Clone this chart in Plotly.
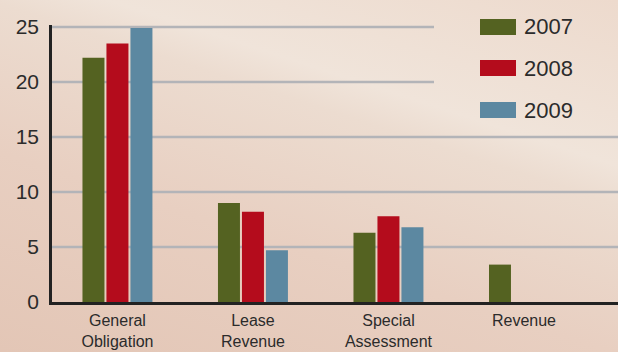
import base64
import plotly.graph_objects as go

# ---- data ----
categories = ["General<br>Obligation", "Lease<br>Revenue", "Special<br>Assessment", "Revenue"]
years = ["2007", "2008", "2009"]
values_2007 = [22.2, 9.0, 6.3, 3.4]
values_2008 = [23.5, 8.2, 7.8, None]
values_2009 = [24.9, 4.7, 6.8, None]
y_ticks = [0, 5, 10, 15, 20, 25]

colors = ["#546221", "#b40c1c", "#5c88a1"]
series = [values_2007, values_2008, values_2009]

W, H = 618, 352
L, R, T, B = 52, 0, 25, 50
PW, PH = W - L - R, H - T - B


def px_x(px):
    return (px - L) / PW


def px_y(py):
    return (T + PH - py) / PH


fig = go.Figure()
for name, vals, col in zip(years, series, colors):
    fig.add_trace(go.Bar(x=categories, y=vals, name=name, marker=dict(color=col, line=dict(width=0)),
                         showlegend=False))

# background gradient
svg = f'''<svg xmlns="http://www.w3.org/2000/svg" width="{W}" height="{H}" viewBox="0 0 {W} {H}" preserveAspectRatio="none">
<defs><linearGradient id="g" gradientUnits="userSpaceOnUse" x1="59" y1="-181" x2="-103" y2="317">
<stop offset="0" stop-color="#eddacd"/>
<stop offset="0.30" stop-color="#f0e4da"/>
<stop offset="0.37" stop-color="#ecdcd0"/>
<stop offset="0.64" stop-color="#e8cfc1"/>
<stop offset="1" stop-color="#e3c6b6"/>
</linearGradient></defs>
<rect x="0" y="0" width="{W}" height="{H}" fill="url(#g)"/></svg>'''
src = "data:image/svg+xml;base64," + base64.b64encode(svg.encode()).decode()

shapes = []
# gridlines (upper ones stop short of legend)
for v in y_ticks[1:]:
    x1 = px_x(434) if v >= 20 else 1
    shapes.append(dict(type="line", xref="paper", yref="y", x0=0, x1=x1, y0=v, y1=v,
                       line=dict(color="#b3b4b8", width=2.5), layer="below"))

annotations = []
leg_centers = [27, 68, 110]
for name, col, cy in zip(years, colors, leg_centers):
    shapes.append(dict(type="rect", xref="paper", yref="paper", x0=px_x(480), x1=px_x(516),
                       y0=px_y(cy + 8), y1=px_y(cy - 8), fillcolor=col, line=dict(width=0)))
    annotations.append(dict(xref="paper", yref="paper", x=px_x(522), y=px_y(cy), text=name,
                            showarrow=False, xanchor="left", yanchor="middle",
                            font=dict(size=22, color="#2b2b2b")))

fig.update_layout(
    width=W, height=H,
    margin=dict(l=L, r=R, t=T, b=B, pad=0),
    paper_bgcolor="#eadbd0",
    plot_bgcolor="rgba(0,0,0,0)",
    font=dict(family="Liberation Sans, Arial, sans-serif", color="#2b2b2b"),
    barmode="group",
    bargap=0.469,
    bargroupgap=0.083,
    shapes=shapes,
    annotations=annotations,
    images=[dict(source=src, xref="paper", yref="paper", x=-L / PW, y=1 + T / PH,
                 sizex=W / PW, sizey=H / PH, xanchor="left", yanchor="top",
                 sizing="stretch", layer="below")],
    xaxis=dict(range=[-0.483, 3.694], showgrid=False, showline=True, linecolor="#222222",
               linewidth=3, ticks="", tickfont=dict(size=16, color="#2b2b2b"),
               ticklabelstandoff=2, fixedrange=True, automargin=False),
    yaxis=dict(range=[0, 25.18], tickvals=y_ticks, showgrid=False, zeroline=False,
               showline=True, linecolor="#222222", linewidth=2.5, ticks="",
               tickfont=dict(size=21, color="#2b2b2b"), ticklabelstandoff=6, fixedrange=True,
               automargin=False),
)

fig.write_html("out.html")
